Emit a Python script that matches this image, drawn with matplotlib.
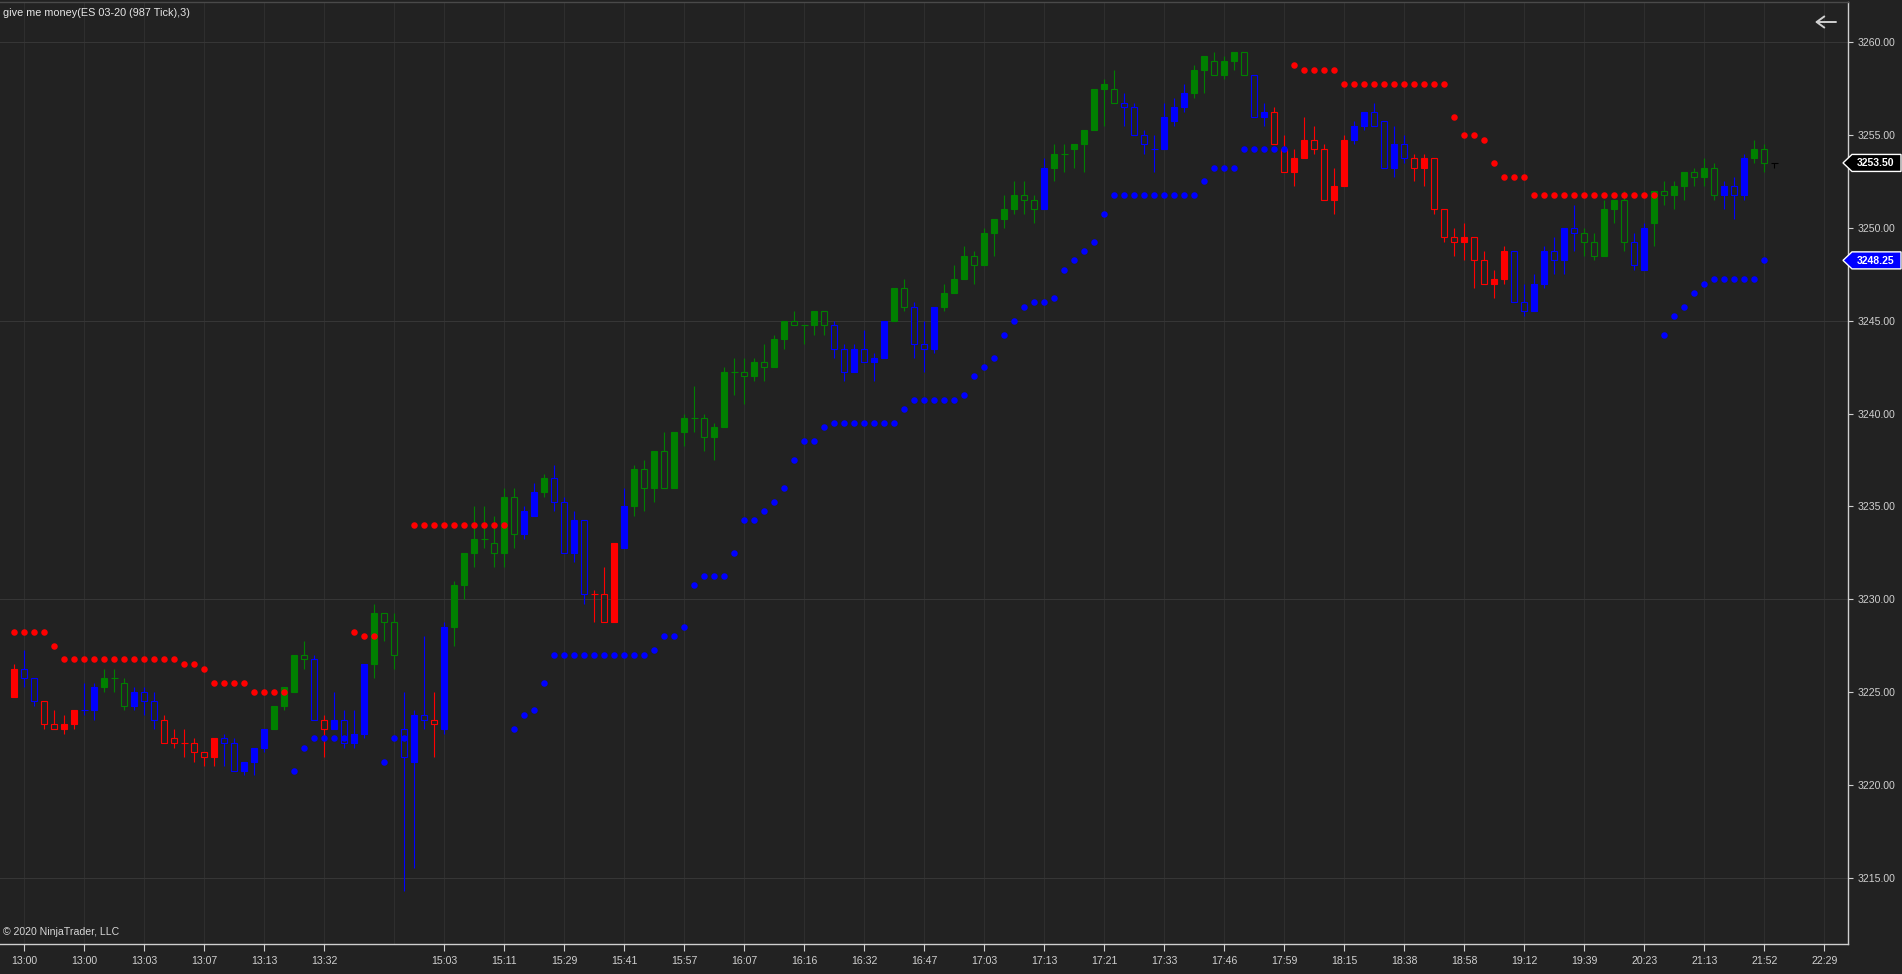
import numpy as np
import matplotlib
matplotlib.use("Agg")
import matplotlib.pyplot as plt
from matplotlib import font_manager as fm
from matplotlib.patches import Polygon

# ---------------- data ----------------
opens = [
    3224.75, 3226.25, 3225.75, 3224.5, 3223.25, 3223.0, 3223.25, 3224.0, 3224.0, 3225.25,
    3225.75, 3225.5, 3224.25, 3225.0, 3224.5, 3223.5, 3222.5, 3222.25, 3222.25, 3221.75,
    3221.5, 3222.5, 3222.25, 3220.75, 3221.25, 3222.0, 3223.0, 3224.25, 3225.0, 3227.0,
    3226.75, 3223.5, 3223.0, 3223.5, 3222.25, 3222.75, 3226.5, 3229.25, 3228.75, 3223.0,
    3221.25, 3223.75, 3223.5, 3223.0, 3228.5, 3230.75, 3232.5, 3233.25, 3233.0, 3232.5,
    3235.5, 3233.5, 3234.5, 3235.75, 3236.5, 3235.25, 3232.5, 3234.25, 3230.25, 3230.25,
    3228.75, 3232.75, 3235.0, 3237.0, 3236.0, 3238.0, 3236.0, 3239.0, 3239.75, 3239.75,
    3238.75, 3239.25, 3242.25, 3242.25, 3242.0, 3242.75, 3242.5, 3244.0, 3245.0, 3244.75,
    3244.75, 3245.5, 3244.75, 3243.5, 3242.25, 3243.5, 3242.75, 3243.0, 3245.0, 3246.75,
    3245.75, 3243.75, 3243.5, 3245.75, 3246.5, 3247.25, 3248.5, 3248.0, 3249.75, 3250.5,
    3251.0, 3251.75, 3251.5, 3251.0, 3253.25, 3254.0, 3254.25, 3254.5, 3255.25, 3257.5,
    3257.5, 3256.75, 3256.5, 3255.0, 3254.25, 3254.25, 3255.75, 3256.5, 3257.25, 3258.5,
    3259.0, 3258.25, 3259.0, 3259.5, 3258.25, 3256.0, 3256.25, 3254.25, 3253.0, 3253.75,
    3254.75, 3254.25, 3251.5, 3252.25, 3254.75, 3255.5, 3256.25, 3255.75, 3253.25, 3254.5,
    3253.75, 3253.25, 3253.75, 3251.0, 3249.5, 3249.25, 3249.5, 3248.25, 3247.0, 3247.25,
    3248.75, 3246.0, 3245.5, 3247.0, 3248.75, 3248.25, 3250.0, 3249.75, 3249.25, 3248.5,
    3251.0, 3251.5, 3249.25, 3247.75, 3250.25, 3252.0, 3251.75, 3252.25, 3253.0, 3252.75,
    3253.25, 3251.75, 3252.25, 3251.75, 3253.75, 3254.25, 3253.5,
]
highs = [
    3226.5, 3227.25, 3225.75, 3224.5, 3224.0, 3223.75, 3224.0, 3225.5, 3225.5, 3226.25,
    3226.25, 3225.75, 3225.25, 3225.25, 3225.0, 3223.75, 3223.0, 3223.0, 3222.5, 3221.75,
    3222.5, 3222.75, 3222.5, 3221.25, 3222.0, 3223.0, 3224.25, 3225.25, 3227.0, 3227.75,
    3227.0, 3223.75, 3225.0, 3224.0, 3224.0, 3226.5, 3229.75, 3229.25, 3229.25, 3225.0,
    3224.0, 3228.0, 3225.0, 3228.75, 3231.0, 3232.5, 3235.0, 3235.0, 3234.5, 3236.0,
    3236.0, 3235.0, 3236.25, 3236.75, 3237.25, 3235.5, 3234.75, 3234.25, 3230.5, 3231.75,
    3233.0, 3236.0, 3237.25, 3237.5, 3238.0, 3239.0, 3239.0, 3240.0, 3241.5, 3240.0,
    3239.5, 3242.5, 3243.0, 3243.0, 3243.0, 3243.75, 3244.25, 3245.0, 3245.5, 3244.75,
    3245.5, 3245.5, 3245.0, 3243.75, 3243.75, 3244.5, 3243.25, 3245.0, 3246.75, 3247.25,
    3246.0, 3245.0, 3245.75, 3247.0, 3248.0, 3249.0, 3248.75, 3250.0, 3250.5, 3251.75,
    3252.5, 3252.5, 3251.75, 3253.75, 3254.5, 3254.5, 3254.5, 3255.25, 3257.5, 3258.0,
    3258.5, 3257.25, 3256.75, 3255.25, 3255.0, 3256.75, 3257.0, 3257.75, 3258.75, 3259.25,
    3259.5, 3259.25, 3259.5, 3259.5, 3258.25, 3256.75, 3256.5, 3255.0, 3254.25, 3256.0,
    3255.5, 3254.5, 3253.25, 3255.0, 3255.75, 3256.25, 3256.75, 3255.75, 3255.5, 3255.0,
    3254.0, 3254.0, 3253.75, 3251.0, 3250.0, 3250.25, 3249.5, 3248.75, 3247.75, 3249.0,
    3248.75, 3247.0, 3247.5, 3249.0, 3249.5, 3250.0, 3251.25, 3250.0, 3249.75, 3251.5,
    3251.5, 3252.0, 3249.75, 3250.25, 3252.0, 3252.5, 3252.5, 3253.0, 3253.25, 3253.75,
    3253.5, 3252.5, 3252.75, 3254.0, 3254.75, 3254.5, 3253.5,
]
lows = [
    3224.75, 3225.25, 3224.25, 3223.0, 3223.0, 3222.75, 3223.0, 3223.75, 3223.5, 3225.0,
    3225.0, 3224.0, 3224.0, 3223.75, 3223.0, 3222.25, 3222.0, 3221.5, 3221.25, 3221.0,
    3221.0, 3221.0, 3220.75, 3220.5, 3220.5, 3221.75, 3223.0, 3224.0, 3225.0, 3226.25,
    3223.5, 3221.5, 3223.0, 3222.0, 3222.0, 3222.5, 3225.75, 3227.75, 3226.25, 3214.25,
    3215.5, 3223.0, 3221.5, 3222.75, 3227.5, 3230.0, 3231.75, 3232.75, 3231.75, 3231.75,
    3232.75, 3233.25, 3234.5, 3235.5, 3234.75, 3232.5, 3232.0, 3229.75, 3228.75, 3228.75,
    3228.75, 3232.75, 3234.5, 3234.75, 3235.25, 3236.0, 3236.0, 3238.25, 3239.0, 3238.0,
    3237.5, 3239.25, 3241.0, 3240.5, 3241.75, 3241.75, 3242.5, 3243.5, 3244.75, 3243.75,
    3244.25, 3244.25, 3243.0, 3241.75, 3242.25, 3242.75, 3241.75, 3243.0, 3245.0, 3245.5,
    3243.0, 3242.25, 3243.25, 3245.5, 3246.5, 3247.25, 3247.0, 3248.0, 3248.5, 3250.0,
    3250.75, 3250.75, 3250.25, 3251.0, 3252.5, 3253.0, 3253.25, 3253.0, 3255.25, 3255.5,
    3256.75, 3255.5, 3255.0, 3254.0, 3253.0, 3254.25, 3255.5, 3256.25, 3257.0, 3257.25,
    3258.25, 3258.0, 3258.5, 3258.25, 3256.0, 3255.5, 3254.5, 3253.0, 3252.25, 3253.75,
    3254.0, 3251.5, 3250.75, 3252.25, 3254.5, 3255.25, 3255.5, 3253.25, 3252.75, 3253.5,
    3252.5, 3252.25, 3250.75, 3249.25, 3248.5, 3248.25, 3246.75, 3247.0, 3246.25, 3247.0,
    3246.0, 3245.25, 3245.5, 3246.75, 3247.5, 3247.5, 3248.75, 3248.5, 3248.25, 3248.5,
    3250.25, 3248.75, 3247.75, 3247.75, 3249.0, 3251.25, 3251.0, 3251.5, 3252.25, 3252.25,
    3251.5, 3251.0, 3250.5, 3251.5, 3253.5, 3253.0, 3253.25,
]
closes = [
    3226.25, 3225.75, 3224.5, 3223.25, 3223.0, 3223.25, 3224.0, 3224.0, 3225.25, 3225.75,
    3225.75, 3224.25, 3225.0, 3224.5, 3223.5, 3222.25, 3222.25, 3222.25, 3221.75, 3221.5,
    3222.5, 3222.25, 3220.75, 3221.25, 3222.0, 3223.0, 3224.25, 3225.25, 3227.0, 3226.75,
    3223.5, 3223.0, 3223.5, 3222.25, 3222.75, 3226.5, 3229.25, 3228.75, 3227.0, 3221.5,
    3223.75, 3223.5, 3223.25, 3228.5, 3230.75, 3232.5, 3233.25, 3233.25, 3232.5, 3235.5,
    3233.5, 3234.75, 3235.75, 3236.5, 3235.25, 3232.5, 3234.25, 3230.25, 3230.25, 3228.75,
    3233.0, 3235.0, 3237.0, 3236.0, 3238.0, 3236.0, 3239.0, 3239.75, 3239.75, 3238.75,
    3239.25, 3242.25, 3242.25, 3242.0, 3242.75, 3242.5, 3244.0, 3245.0, 3244.75, 3244.75,
    3245.5, 3244.75, 3243.5, 3242.25, 3243.5, 3242.75, 3243.0, 3245.0, 3246.75, 3245.75,
    3243.75, 3243.5, 3245.75, 3246.5, 3247.25, 3248.5, 3248.0, 3249.75, 3250.5, 3251.0,
    3251.75, 3251.5, 3251.0, 3253.25, 3254.0, 3254.0, 3254.5, 3255.25, 3257.5, 3257.75,
    3256.75, 3256.5, 3255.0, 3254.5, 3254.25, 3256.0, 3256.5, 3257.25, 3258.5, 3259.25,
    3258.25, 3259.0, 3259.5, 3258.25, 3256.0, 3256.25, 3254.5, 3253.0, 3253.75, 3254.75,
    3254.25, 3251.5, 3252.25, 3254.75, 3255.5, 3256.25, 3255.5, 3253.25, 3254.5, 3253.75,
    3253.25, 3253.75, 3251.0, 3249.5, 3249.25, 3249.5, 3248.25, 3247.0, 3247.25, 3248.75,
    3246.0, 3245.5, 3247.0, 3248.75, 3248.25, 3250.0, 3249.75, 3249.25, 3248.5, 3251.0,
    3251.5, 3249.25, 3248.0, 3250.0, 3252.0, 3251.75, 3252.25, 3253.0, 3252.75, 3253.25,
    3251.75, 3252.25, 3251.75, 3253.75, 3254.25, 3253.5, 3253.5,
]
# bar paint colour per bar: r = red, b = blue, g = green, k = black
bar_colors = (
    "rbbrrrrbbg" "ggbbbrrrrr" "rbbbbbgggg" "brbbbbgggb" "bbrbgggggg"
    "gbbgbbbbrr" "rbgggggggg" "gggggggggg" "ggbbbbbbgg" "bbbggggggg"
    "gggbgggggg" "gbbbbbbbgg" "ggggbbrrrr" "rrrrbbbbbb" "rrrrrrrrrr"
    "bbbbbbbggg" "ggbbgggggg" "gbbbggk"
)
red_dots = [
    3228.25, 3228.25, 3228.25, 3228.25, 3227.5, 3226.75, 3226.75, 3226.75, 3226.75, 3226.75,
    3226.75, 3226.75, 3226.75, 3226.75, 3226.75, 3226.75, 3226.75, 3226.5, 3226.5, 3226.25,
    3225.5, 3225.5, 3225.5, 3225.5, 3225.0, 3225.0, 3225.0, 3225.0, None, None,
    None, None, None, None, 3228.25, 3228.0, 3228.0, None, None, None,
    3234.0, 3234.0, 3234.0, 3234.0, 3234.0, 3234.0, 3234.0, 3234.0, 3234.0, 3234.0,
    None, None, None, None, None, None, None, None, None, None,
    None, None, None, None, None, None, None, None, None, None,
    None, None, None, None, None, None, None, None, None, None,
    None, None, None, None, None, None, None, None, None, None,
    None, None, None, None, None, None, None, None, None, None,
    None, None, None, None, None, None, None, None, None, None,
    None, None, None, None, None, None, None, None, None, None,
    None, None, None, None, None, None, None, None, 3258.75, 3258.5,
    3258.5, 3258.5, 3258.5, 3257.75, 3257.75, 3257.75, 3257.75, 3257.75, 3257.75, 3257.75,
    3257.75, 3257.75, 3257.75, 3257.75, 3256.0, 3255.0, 3255.0, 3254.75, 3253.5, 3252.75,
    3252.75, 3252.75, 3251.75, 3251.75, 3251.75, 3251.75, 3251.75, 3251.75, 3251.75, 3251.75,
    3251.75, 3251.75, 3251.75, 3251.75, 3251.75, None, None, None, None, None,
    None, None, None, None, None, None, None,
]
blue_dots = [
    None, None, None, None, None, None, None, None, None, None,
    None, None, None, None, None, None, None, None, None, None,
    None, None, None, None, None, None, None, None, 3220.75, 3222.0,
    3222.5, 3222.5, 3222.5, 3222.5, None, None, None, 3221.25, 3222.5, 3222.5,
    None, None, None, None, None, None, None, None, None, None,
    3223.0, 3223.75, 3224.0, 3225.5, 3227.0, 3227.0, 3227.0, 3227.0, 3227.0, 3227.0,
    3227.0, 3227.0, 3227.0, 3227.0, 3227.25, 3228.0, 3228.0, 3228.5, 3230.75, 3231.25,
    3231.25, 3231.25, 3232.5, 3234.25, 3234.25, 3234.75, 3235.25, 3236.0, 3237.5, 3238.5,
    3238.5, 3239.25, 3239.5, 3239.5, 3239.5, 3239.5, 3239.5, 3239.5, 3239.5, 3240.25,
    3240.75, 3240.75, 3240.75, 3240.75, 3240.75, 3241.0, 3242.0, 3242.5, 3243.0, 3244.25,
    3245.0, 3245.75, 3246.0, 3246.0, 3246.25, 3247.75, 3248.25, 3248.75, 3249.25, 3250.75,
    3251.75, 3251.75, 3251.75, 3251.75, 3251.75, 3251.75, 3251.75, 3251.75, 3251.75, 3252.5,
    3253.25, 3253.25, 3253.25, 3254.25, 3254.25, 3254.25, 3254.25, 3254.25, None, None,
    None, None, None, None, None, None, None, None, None, None,
    None, None, None, None, None, None, None, None, None, None,
    None, None, None, None, None, None, None, None, None, None,
    None, None, None, None, None, 3244.25, 3245.25, 3245.75, 3246.5, 3247.0,
    3247.25, 3247.25, 3247.25, 3247.25, 3247.25, 3248.25, None,
]
x_tick_bars = [1, 7, 13, 19, 25, 31, 43, 49, 55, 61, 67, 73, 79, 85, 91, 97, 103,
               109, 115, 121, 127, 133, 139, 145, 151, 157, 163, 169, 175, 181]
x_tick_labels = ["13:00", "13:00", "13:03", "13:07", "13:13", "13:32", "15:03", "15:11",
                 "15:29", "15:41", "15:57", "16:07", "16:16", "16:32", "16:47", "17:03",
                 "17:13", "17:21", "17:33", "17:46", "17:59", "18:15", "18:38", "18:58",
                 "19:12", "19:39", "20:23", "21:13", "21:52", "22:29"]
session_break_bar = 38
y_ticks = [3215, 3220, 3225, 3230, 3235, 3240, 3245, 3250, 3255, 3260]
y_grid = [3215, 3230, 3245, 3260]
title_text = "give me money(ES 03-20 (987 Tick),3)"
copyright_text = "\u00a9 2020 NinjaTrader, LLC"

# ---------------- style ----------------
W, H = 1902, 974
BG = "#222222"
VGRID = "#2e2e2e"
HGRID = "#363636"
AXC = "#cfcfcf"
TXT = "#d0d0d0"
PAINT = {"r": "#ff0000", "b": "#0000ff", "g": "#008000", "k": "#000000"}

names = {f.name for f in fm.fontManager.ttflist}
BASE = "Liberation Sans" if "Liberation Sans" in names else "DejaVu Sans"
NARROW = "Liberation Sans Narrow" if "Liberation Sans Narrow" in names else BASE

PX_TOP, PX_BOTTOM, PX_RIGHT = 2, 944, 1848
fig = plt.figure(figsize=(W / 100, H / 100), dpi=100, facecolor=BG)
ax = fig.add_axes([0, 1 - PX_BOTTOM / H, PX_RIGHT / W, (PX_BOTTOM - PX_TOP) / H])
ax.set_facecolor(BG)
ax.set_xlim(-1.43, 183.37)
ax.set_ylim(3211.42, 3262.17)

# grid
for b in x_tick_bars + [session_break_bar]:
    ax.axvline(b, color=VGRID, lw=0.75, zorder=0)
for p in y_grid:
    ax.axhline(p, color=HGRID, lw=0.75, zorder=0)

# candles
idx = np.arange(len(opens))
o = np.array(opens, dtype=float)
hi = np.array(highs, dtype=float)
lo = np.array(lows, dtype=float)
c = np.array(closes, dtype=float)
cols = [PAINT[k] for k in bar_colors]

ax.vlines(idx, lo, hi, colors=cols, lw=0.8, zorder=2)
body_lo = np.minimum(o, c)
body_h = np.abs(c - o)
doji = body_h == 0
up = c > o
nd = ~doji
ax.bar(idx[nd], body_h[nd], bottom=body_lo[nd], width=0.6,
       color=[cols[i] if up[i] else BG for i in idx[nd]],
       edgecolor=[cols[i] for i in idx[nd]], linewidth=0.8, zorder=3)
for i in idx[doji]:
    ax.hlines(o[i], i - 0.33, i + 0.33, colors=cols[i], lw=0.8, zorder=3)

# stop dots
red = np.array(red_dots, dtype=float)
blue = np.array(blue_dots, dtype=float)
ax.scatter(idx, red, s=22, color="#ff0000", linewidths=0, zorder=5)
ax.scatter(idx, blue, s=22, color="#0000ff", linewidths=0, zorder=5)

# axes
ax.yaxis.tick_right()
ax.set_yticks(y_ticks)
ax.set_yticklabels([f"{v:.2f}" for v in y_ticks])
ax.set_xticks(x_tick_bars)
ax.set_xticklabels(x_tick_labels)
ax.tick_params(axis="y", colors=AXC, labelcolor=TXT, length=3.6, width=0.8, pad=3,
               labelsize=7.6, direction="out")
ax.tick_params(axis="x", colors=AXC, labelcolor=TXT, length=5, width=0.8, pad=4,
               labelsize=7.6, direction="out")
for lab in ax.get_yticklabels():
    lab.set_fontfamily(BASE)
for lab in ax.get_xticklabels():
    lab.set_fontfamily(NARROW)
ax.spines["left"].set_visible(False)
ax.spines["top"].set_color("#4a4a4a")
ax.spines["right"].set_color(AXC)
ax.spines["bottom"].set_color(AXC)
for s in ("top", "right", "bottom"):
    ax.spines[s].set_linewidth(1.0)

# overlay in pixel units for labels/markers
ov = fig.add_axes([0, 0, 1, 1], zorder=10)
ov.set_xlim(0, W)
ov.set_ylim(H, 0)
ov.axis("off")
ov.patch.set_alpha(0)


def price_px(price):
    _, yd = ax.transData.transform((0, price))
    return H - yd


def marker(price, face, text):
    y = price_px(price)
    poly = Polygon([(1843, y), (1852, y - 8.5), (1901, y - 8.5), (1901, y + 8.5), (1852, y + 8.5)],
                   closed=True, facecolor=face, edgecolor="white", lw=1.0, zorder=11)
    ov.add_patch(poly)
    ov.text(1876, y + 0.5, text, color="white", fontsize=7.5, fontweight="bold",
            ha="center", va="center", family=BASE, zorder=12)


last_close = closes[-1]
last_blue = [v for v in blue_dots if v is not None][-1]
marker(last_close, "#000000", f"{last_close:.2f}")
marker(last_blue, "#0000ff", f"{last_blue:.2f}")

ov.text(3, 13, title_text, color="#e6e6e6", fontsize=7.8, ha="left", va="center", family=BASE)
ov.text(3, 932, copyright_text, color="#d6d6d6", fontsize=7.6, ha="left", va="center", family=NARROW)
ov.annotate("", xy=(1815, 22), xytext=(1836, 22),
            arrowprops=dict(arrowstyle="->,head_length=0.55,head_width=0.4",
                            color="#d0d0d0", lw=1.4, shrinkA=0, shrinkB=0))

fig.savefig("out.png", dpi=100, facecolor=BG)
